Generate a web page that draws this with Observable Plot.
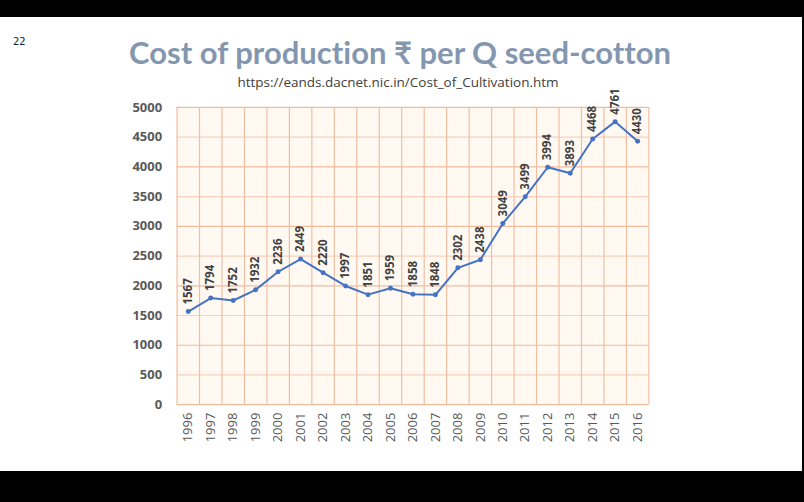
<!DOCTYPE html>
<html>
<head>
<meta charset="utf-8">
<script src="https://cdn.jsdelivr.net/npm/d3@7"></script>
<script src="https://cdn.jsdelivr.net/npm/@observablehq/plot@0.6"></script>
<style>
  html, body { margin: 0; padding: 0; background: #000; }
  #slide { position: absolute; left: 0; top: 17px; width: 802px; height: 454px; background: #fff; overflow: hidden; }
  #num { position: absolute; left: 13px; top: 18px; font: 11px "Liberation Sans Narrow", "DejaVu Sans Condensed", sans-serif; color: #222; }
  #title { position: absolute; left: 0; width: 800px; top: 16px; text-align: center; font: bold 31px Lato, "Open Sans", sans-serif; color: #8497B0; font-variant-ligatures: none; }
  #sub { position: absolute; left: 0; width: 796px; top: 56px; text-align: center; font: 13.5px "Open Sans", sans-serif; color: #404040; }
  #chart { position: absolute; left: 0; top: 60px; }
</style>
</head>
<body>
<div id="slide">
  <div id="num">22</div>
  <div id="title">Cost of production ₹ per Q seed-cotton</div>
  <div id="sub">https://eands.dacnet.nic.in/Cost_of_Cultivation.htm</div>
  <div id="chart"></div>
</div>
<script>
const years = [1996,1997,1998,1999,2000,2001,2002,2003,2004,2005,2006,2007,2008,2009,2010,2011,2012,2013,2014,2015,2016];
const costs = [1567,1794,1752,1932,2236,2449,2220,1997,1851,1959,1858,1848,2302,2438,3049,3499,3994,3893,4468,4761,4430];
const yTicks = [0,500,1000,1500,2000,2500,3000,3500,4000,4500,5000];

const data = years.map((y, i) => ({year: y, cost: costs[i]}));
const bounds = [years[0] - 0.5, ...years.map(y => y + 0.5)];

const plot = Plot.plot({
  width: 804,
  height: 395,
  marginLeft: 177,
  marginRight: 154,
  marginTop: 30,
  marginBottom: 67,
  style: {background: "transparent", fontFamily: "'Open Sans', sans-serif", overflow: "visible"},
  x: {domain: [years[0] - 0.5, years[years.length - 1] + 0.5], label: null},
  y: {domain: [0, 5000], label: null},
  marks: [
    Plot.rect([0], {x1: bounds[0], x2: bounds[bounds.length - 1], y1: 0, y2: 5000, fill: "#fff9f2"}),
    Plot.ruleY(yTicks.filter(v => v % 1000 !== 0), {stroke: "#f7d0bf", strokeWidth: 1.2}),
    Plot.ruleY(yTicks.filter(v => v % 1000 === 0), {stroke: "#efbc9e", strokeWidth: 1.2}),
    Plot.ruleX(bounds, {stroke: "#efbfa3", strokeWidth: 1.2}),
    Plot.axisX({ticks: years, tickFormat: "d", tickRotate: -90, tickSize: 0, tickPadding: 8, fontSize: 13, fill: "#595959", label: null}),
    Plot.axisY({ticks: yTicks, tickFormat: "d", tickSize: 0, tickPadding: 15, fontSize: 13, fontWeight: "bold", fill: "#595959", label: null}),
    Plot.line(data, {x: "year", y: "cost", stroke: "#4472C4", strokeWidth: 2}),
    Plot.dot(data, {x: "year", y: "cost", r: 2.5, fill: "#4472C4", stroke: "none"}),
    Plot.text(data, {x: "year", y: "cost", text: d => String(d.cost), rotate: -90, textAnchor: "start", dy: -7, fontSize: 11.5, fontWeight: "bold", fill: "#404040"})
  ]
});
document.getElementById("chart").appendChild(plot);
</script>
</body>
</html>
